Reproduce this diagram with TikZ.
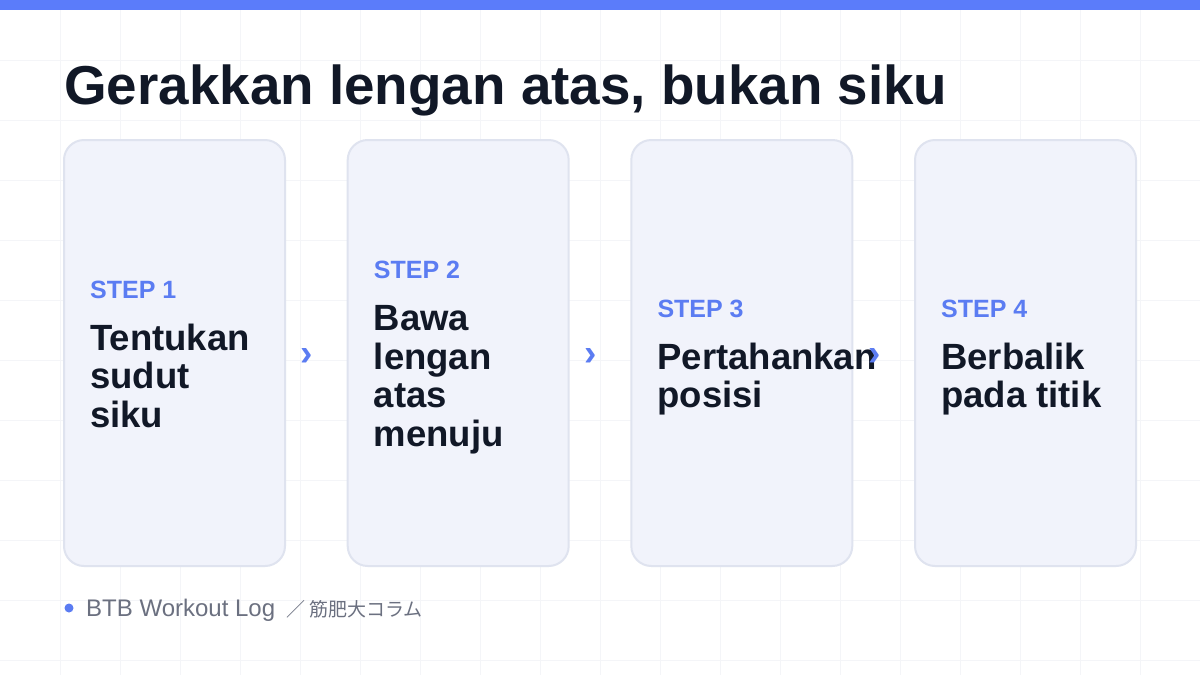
\documentclass[tikz,border=0pt]{standalone}
\usepackage{fontspec}
\setmainfont{Liberation Sans}
\newfontfamily\cjk{Noto Sans CJK JP}
\definecolor{barblue}{HTML}{5B7CFA}
\definecolor{stepblue}{HTML}{5B7CF2}
\definecolor{ink}{HTML}{111827}
\definecolor{cardfill}{HTML}{F1F3FB}
\definecolor{cardline}{HTML}{DFE3EF}
\definecolor{gridc}{HTML}{F4F5F8}
\definecolor{footgray}{HTML}{6B7080}
\tikzset{
  gridline/.style={draw=gridc, line width=1pt},
  card/.style={draw=cardline, fill=cardfill, line width=2pt, rounded corners=20pt,
    minimum width=221pt, minimum height=426pt, inner sep=0pt},
  steplabel/.style={anchor=base west, inner sep=0pt, text=stepblue,
    font=\fontsize{25}{30}\selectfont\bfseries},
  bodyline/.style={anchor=base west, inner sep=0pt, text=ink,
    font=\fontsize{36.5}{40}\selectfont\bfseries},
  chev/.style={inner sep=0pt, text=stepblue, draw=stepblue, line width=0.6pt,
    font=\fontsize{37}{40}\selectfont\bfseries},
}
\begin{document}
\begin{tikzpicture}[x=1pt,y=-1pt]
\useasboundingbox (0,0) rectangle (1200,675);
\fill[white] (0,0) rectangle (1200,675);
\foreach \i in {60,120,...,1140} \draw[gridline] (\i,0) -- (\i,675);
\foreach \j in {60,120,...,660} \draw[gridline] (0,\j) -- (1200,\j);
\fill[barblue] (0,0) rectangle (1200,10);
\node[anchor=base west, inner sep=0pt, text=ink, font=\fontsize{54.8}{60}\selectfont\bfseries]
  (title) at (64,104) {Gerakkan lengan atas, bukan siku};
% cards
\foreach \k/\cx in {1/174.5, 2/458.2, 3/741.8, 4/1025.5}
  \node[card] (c\k) at (\cx,353) {};
% texts
\foreach \k/\tx/\sb/\lines in {
  1/90/298/{Tentukan,sudut,siku},
  2/373.7/278.75/{Bawa,lengan,atas,menuju},
  3/657.3/317.25/{Pertahankan,posisi},
  4/941/317.25/{Berbalik,pada titik}}{
  \node[steplabel] (s\k) at (\tx,\sb) {STEP \k};
  \foreach \w [count=\n] in \lines
    \node[bodyline] (t\k-\n) at (\tx,{\sb+52+(\n-1)*38.5}) {\w};
}
% chevrons
\foreach \k/\ax in {1/307, 2/590.7, 3/874.3}
  \node[inner sep=0pt, text=stepblue, font=\fontsize{37}{40}\selectfont\bfseries] (a\k) at (\ax,357) {›};
% footer
\fill[stepblue] (69,608) circle (4.5pt);
\coordinate (dot) at (69,608);
\node[anchor=base west, inner sep=0pt, text=footgray, font=\fontsize{24}{26}\selectfont]
  (foot) at (86,616) {BTB Workout Log {\cjk\fontsize{19}{24}\selectfont{} ／ 筋肥大コラム}};
\end{tikzpicture}
\end{document}
